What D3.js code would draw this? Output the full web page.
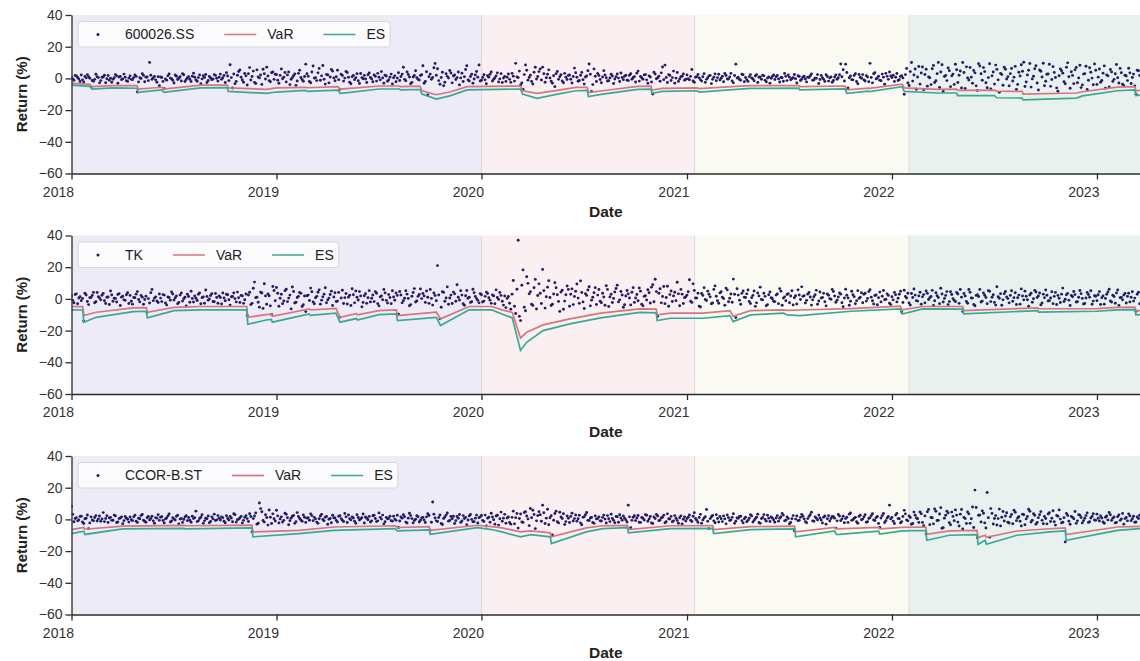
<!DOCTYPE html>
<html>
<head>
<meta charset="utf-8">
<script src="https://cdn.jsdelivr.net/npm/d3@7"></script>
<style>
  body { margin: 0; background: #fff; }
  text { font-family: "Liberation Sans", Arial, sans-serif; }
</style>
</head>
<body>
<svg id="chart" width="1140" height="661"></svg>
<script>
// ---- data ----
// daily returns in %, 84 per year from 2018.0; the "_b" arrays sit half a step later
const ret600026_a = [
  0.8,-1.2,1.5,-0.4,2.1,-2.3,0.3,1.1,-5.5,-1.8,2.6,0.5,
  -1.4,0.9,-2.7,1.8,0.2,-0.6,2.4,-3.1,1.2,-0.3,0.7,-1.9,
  1.6,-0.8,2.2,-8.6,0.4,3.0,-2.1,0.9,10.1,-0.5,1.3,-2.4,
  -4.6,0.6,-6.5,-1.1,2.8,-0.2,-2.9,1.4,0.1,-1.6,2.3,-0.7,
  1.0,-2.0,3.3,-0.9,0.5,-3.4,1.7,2.5,-1.3,0.3,-0.4,1.9,
  -1.7,2.7,0.4,-2.6,1.5,8.6,-6.1,-3.3,2.0,5.3,-1.0,3.1,
  -4.2,6.8,1.2,-2.5,5.4,0.3,-3.8,2.9,7.1,-1.4,3.6,-0.6,
  2.4,-3.1,5.9,0.8,-2.2,4.1,-0.5,1.7,-4.4,3.2,0.6,-1.8,
  9.0,1.3,-2.7,7.8,0.4,3.5,-1.2,8.1,-3.6,2.2,0.9,4.6,
  -1.5,5.2,-6.9,1.8,0.2,3.7,-2.4,1.1,-0.8,2.9,-3.2,0.5,
  1.9,-2.6,3.4,-0.3,2.2,-1.7,0.8,4.3,-3.0,1.5,-0.9,2.7,
  0.4,-2.1,3.6,1.2,7.0,-1.5,2.5,-3.3,0.9,4.8,-0.6,1.8,
  8.0,-1.9,-10.4,2.7,0.6,9.4,6.1,-3.7,3.9,-2.4,1.3,5.0,
  -2.8,2.1,0.5,-4.1,3.3,1.0,8.0,-1.6,2.6,-0.4,4.4,8.5,
  -1.2,2.3,-3.4,0.8,4.1,-0.5,1.6,-2.2,3.0,0.2,-1.9,2.8,
  -2.5,1.4,9.5,0.5,-4.2,-6.9,8.5,-1.1,2.0,-3.5,7.0,1.2,
  6.0,7.1,-2.4,2.6,0.3,-3.0,-5.2,4.4,1.0,-1.6,3.2,-0.7,
  2.1,-2.9,6.5,0.7,-1.3,3.8,-3.6,1.5,9.1,-8.2,6.0,-2.0,
  1.8,-2.7,4.9,0.4,-1.5,2.6,-3.2,1.1,0.2,3.4,-0.8,2.0,
  -1.4,3.0,0.6,-2.3,4.6,1.2,-0.5,2.4,-3.1,0.9,-9.8,2.7,
  0.3,-1.8,7.2,8.4,-2.6,1.9,0.5,-3.0,3.7,-0.4,1.4,-1.1,
  2.2,-0.9,5.6,-2.4,1.1,0.3,-1.7,3.0,-0.6,1.6,-3.3,0.8,
  -1.5,2.6,0.1,-2.1,1.8,-0.4,3.2,-2.8,9.0,0.7,-1.2,2.3,
  0.6,-1.9,2.4,-0.3,1.5,-2.6,0.9,2.0,-1.1,0.2,-3.0,1.3,
  -0.7,1.9,-2.3,0.4,3.1,-1.4,0.8,-0.2,2.5,-2.9,1.2,-0.5,
  1.4,-2.2,0.6,2.8,-1.0,0.1,-3.2,1.9,-0.6,2.3,-1.7,0.9,
  -1.3,2.1,0.4,9.1,5.5,9.0,-6.0,1.5,-0.9,3.0,-3.4,0.7,
  2.4,-1.6,0.9,9.5,-2.8,3.6,0.2,-1.1,2.7,-3.7,1.3,4.0,
  0.5,-2.0,3.1,-0.8,1.7,-10.0,6.2,-4.5,10.0,2.1,-6.8,7.5,
  3.4,-7.1,5.8,0.9,-3.9,8.2,-1.5,10.1,4.0,-8.3,1.8,6.6,
  -5.2,2.7,8.9,-2.6,4.7,10.0,-6.4,0.3,6.9,-3.1,3.5,-7.6,
  7.8,-1.2,4.3,-5.9,9.2,1.6,-3.6,5.7,-8.8,2.4,7.1,-0.4,
  -4.7,6.3,0.8,-6.9,3.9,8.6,10.2,-2.3,5.1,-5.5,1.4,8.0,
  -7.3,4.5,9.6,-1.8,2.8,-5.0,7.4,0.6,-8.1,6.0,3.3,-3.4,
  9.8,-6.2,1.9,5.4,-2.7,8.3,-4.1,3.0,-7.0,6.7,0.2,9.1,
  -3.8,5.9,-1.3,7.9,2.2,-5.4,4.1,-0.6,8.8,-2.9,3.6,-4.6,
  1.5,6.4,-3.2,2.7,-10.0,4.8
];
const ret600026_b = [
  -0.3,1.8,0.6,-2.0,-0.9,1.2,2.4,0.1,-1.3,-0.6,1.0,-2.8,
  0.7,2.0,-0.2,-1.1,-2.4,0.4,1.6,0.9,-0.8,2.7,-1.5,0.2,
  -0.6,0.5,1.3,-2.2,-0.1,1.9,0.8,-1.4,2.0,0.3,-0.9,1.1,
  0.9,-1.9,-0.4,1.6,0.2,-1.2,2.1,-0.7,1.0,2.9,-2.0,0.4,
  -0.5,1.4,0.7,-1.8,2.2,-0.3,0.6,-2.6,1.2,-0.8,2.4,0.1,
  0.8,-0.6,1.9,3.6,-1.4,0.5,2.8,-1.9,4.4,0.7,-2.4,1.6,
  3.0,-1.0,4.6,-3.2,0.9,2.1,5.8,-0.4,1.5,-2.1,4.0,2.6,
  -1.1,1.9,-0.2,3.7,2.2,-3.9,0.5,2.8,-1.6,5.1,-0.7,1.2,
  2.9,-2.0,4.0,0.2,-1.4,6.3,1.6,-0.5,2.5,-2.8,5.6,0.3,
  1.0,-0.8,2.6,-1.7,4.4,0.7,-3.4,1.9,0.4,-1.5,3.1,-0.2,
  -0.4,2.3,0.6,-2.1,1.4,3.2,-0.9,0.3,2.0,-1.8,0.8,-3.5,
  1.6,0.2,-1.3,2.7,-0.6,4.1,0.9,-2.5,1.8,0.5,-1.0,2.3,
  -3.1,4.2,1.1,-0.5,6.7,2.0,-1.4,0.6,-4.6,2.9,0.2,3.4,
  1.5,-0.7,4.0,0.3,-2.0,5.6,-0.9,1.2,-3.0,2.2,0.8,-1.6,
  0.6,-0.9,1.7,2.6,-1.6,0.4,3.5,-0.3,-2.6,1.3,0.7,-0.6,
  3.2,-1.7,0.9,4.6,-2.9,2.4,5.1,0.6,-1.9,3.9,-0.4,4.3,
  -1.0,2.9,0.4,5.4,-1.8,1.7,3.0,-0.6,2.3,-2.7,0.8,1.9,
  -0.5,1.2,3.6,-1.8,2.0,-0.8,0.9,4.8,2.6,-3.9,1.4,3.1,
  -0.7,0.9,2.2,-1.6,0.3,1.5,-0.4,2.8,-2.0,0.6,1.3,-1.1,
  2.0,-0.5,1.1,3.3,-1.7,0.4,2.2,-0.9,1.6,-2.2,3.9,-0.2,
  1.4,3.5,-0.8,0.6,2.4,-1.3,4.6,0.2,-1.9,1.1,2.8,-0.5,
  -0.2,1.3,-1.6,0.7,2.5,-0.8,1.0,-2.5,0.4,1.9,-0.6,2.8,
  0.5,-1.0,1.4,3.1,-0.4,0.9,-1.6,1.8,0.2,-0.7,2.6,-2.1,
  -0.8,1.1,0.3,-1.5,2.3,0.7,-0.5,1.6,-2.1,0.9,0.1,2.2,
  1.0,-0.3,0.6,-1.8,1.3,2.2,-0.9,0.4,-0.2,1.7,-1.3,0.8,
  -0.4,0.8,1.7,-1.1,0.2,2.4,-0.7,0.5,-1.9,1.2,0.3,-2.4,
  0.9,-0.5,2.3,1.0,-1.6,3.7,0.4,-0.8,1.8,-2.0,2.5,0.1,
  -0.9,1.7,-2.1,0.6,2.9,-0.3,1.4,-1.5,0.8,3.2,-0.6,1.5,
  2.0,0.7,-1.3,1.2,0.3,2.4,-2.8,4.3,-1.7,5.9,0.9,-3.6,
  7.2,2.5,-4.9,0.4,6.1,-2.6,3.0,-5.7,8.6,1.2,-1.4,4.9,
  1.6,-3.8,5.5,2.0,-6.0,3.7,7.3,-1.0,0.8,5.0,-4.7,9.3,
  2.9,6.8,-2.7,0.5,-6.6,4.0,8.4,-0.9,3.2,-4.3,5.8,1.1,
  3.0,-1.6,7.6,-3.8,1.5,4.5,-5.1,2.2,9.4,-0.3,6.1,-2.9,
  5.3,0.9,-4.6,2.6,8.9,-0.7,3.8,-6.0,1.7,4.8,-2.1,7.0,
  1.0,4.2,-3.3,6.9,0.3,-5.8,2.7,7.7,-1.2,3.9,-4.0,5.1,
  0.8,-2.4,3.3,-6.2,1.6,5.6,-1.9,2.9,0.4,6.3,-3.7,2.0,
  -1.4,3.5,0.6,-4.8,5.1,1.9
];

const retTK_a = [
  1.9,-2.4,3.2,0.6,-1.1,-14.0,2.5,-3.6,0.9,4.1,-1.8,1.4,
  -0.6,3.5,-2.9,1.2,5.0,-1.5,0.3,2.8,-4.2,1.7,-0.9,3.9,
  2.2,-3.3,0.8,4.6,-1.9,1.1,-0.4,-8.5,-2.6,6.0,0.5,-1.3,
  3.1,-1.7,2.4,-3.8,0.9,4.4,-0.7,1.8,-2.2,3.7,0.1,-4.5,
  1.5,4.8,-2.0,0.4,2.9,-3.1,1.2,5.6,-0.8,2.1,-1.6,3.4,
  -2.7,0.9,3.8,-1.2,2.6,-3.9,1.5,0.2,4.3,-2.3,1.9,-0.5,
  -10.5,4.2,-2.8,10.6,1.1,-5.2,3.7,9.6,-3.4,2.0,-9.8,5.3,
  7.2,-4.6,2.9,-1.3,6.1,0.5,-6.3,4.7,-2.1,1.6,3.5,-3.7,
  -8.0,2.4,6.8,-1.9,0.7,4.2,-3.3,1.3,7.0,-0.6,2.8,-4.1,
  3.9,-1.4,-11.5,5.5,0.8,-3.2,2.3,6.4,-2.5,1.0,4.6,-5.0,
  2.0,-2.8,5.2,0.4,-1.7,3.6,-4.4,1.9,6.0,-0.9,2.7,-3.0,
  1.2,3.8,-9.6,2.5,-1.1,5.1,0.3,-3.6,4.0,-2.0,1.6,6.3,
  3.4,-2.2,1.0,5.9,-3.9,2.1,21.0,-12.6,4.5,-1.5,7.6,0.6,
  -2.9,3.2,8.9,-0.7,2.4,-4.0,5.3,1.1,-1.8,3.9,0.2,-2.5,
  2.6,-1.4,4.3,0.7,-2.8,1.9,5.7,-0.3,2.2,-3.9,-5.5,1.5,
  -6.5,11.6,-9.2,37.0,-13.7,18.3,-7.5,9.8,4.5,-4.1,12.3,2.1,
  3.6,18.6,-5.8,7.4,0.9,-3.3,10.2,2.6,-7.9,5.5,-1.4,8.1,
  -4.6,6.3,1.5,9.4,-2.8,4.0,-6.1,2.2,7.7,-0.8,3.9,-3.5,
  5.9,-2.4,1.2,8.3,-4.8,2.9,0.3,6.6,-1.9,4.7,-5.3,1.8,
  3.2,-3.8,7.1,0.6,-1.2,4.9,-4.4,2.0,5.8,-2.6,9.0,12.4,
  -11.0,6.4,1.5,-3.0,8.0,2.7,-1.6,4.2,10.5,-4.3,3.0,0.8,
  2.4,12.1,-2.2,5.3,0.5,-4.6,3.4,7.1,-1.0,2.9,-3.1,6.0,
  1.7,-2.7,4.5,0.2,6.8,-1.8,3.1,12.5,-11.8,2.4,-3.4,5.0,
  0.9,5.6,-2.9,2.2,-4.7,3.8,7.4,-0.6,1.6,-3.6,4.4,0.1,
  -1.7,3.1,6.5,-4.0,1.3,2.8,-2.4,5.1,0.7,-3.2,2.5,7.6,
  2.0,-0.9,4.0,-3.9,1.4,5.4,-1.3,0.5,3.5,-4.4,2.3,-0.2,
  4.7,-2.1,1.2,3.0,-4.9,6.1,0.6,-1.5,2.6,-3.1,5.2,1.0,
  -2.4,3.6,0.3,5.8,-1.2,2.1,-3.7,4.3,1.7,-0.5,3.2,-2.7,
  1.4,4.1,-1.9,2.9,-8.2,5.5,0.6,-2.6,3.4,6.2,-1.1,1.9,
  -3.3,2.7,5.0,-0.4,1.5,-4.1,3.9,0.9,6.7,-2.0,2.2,-3.6,
  4.5,0.2,-1.6,3.1,5.9,-8.0,1.8,-2.7,4.2,0.5,-4.3,2.6,
  6.0,-1.4,2.3,-3.1,4.8,1.0,-2.2,7.7,0.4,-4.0,3.3,1.2,
  -2.5,5.1,0.8,-3.5,2.4,6.3,-0.6,1.7,-4.6,3.6,0.1,4.4,
  1.9,-3.8,3.0,5.6,-1.3,0.6,-3.0,4.1,2.2,-2.3,6.8,-0.2,
  3.5,-4.2,1.4,2.7,-1.8,5.3,0.3,-2.9,4.0,1.1,-3.4,2.0,
  -1.1,4.6,0.7,-3.3,2.9,6.1,-2.0,1.5,3.8,-4.1,0.9,2.4,
  -2.6,3.6,1.0,-1.4,-7.8,4.2
];
const retTK_b = [
  -0.9,2.8,-3.1,1.4,0.3,3.6,-1.6,0.8,2.2,-2.4,4.0,0.6,
  2.3,-1.2,1.0,-3.5,2.5,0.4,-2.0,3.3,1.1,-0.6,2.6,-2.9,
  -1.5,0.9,3.0,-0.4,2.1,-3.4,1.7,0.2,3.9,-1.1,1.3,-2.3,
  0.5,2.7,-2.6,1.2,-0.8,3.1,0.7,-3.0,2.4,-1.4,1.0,2.9,
  -2.1,0.3,1.9,-1.0,3.7,0.8,-2.7,1.5,0.0,3.3,-1.8,0.9,
  1.8,-3.2,0.6,2.9,-0.5,1.4,3.8,-1.9,0.7,2.2,-2.8,3.1,
  2.5,-3.6,6.7,0.8,-2.1,4.3,-6.0,1.9,3.1,-4.4,7.8,-1.2,
  3.6,0.4,-3.0,5.2,-1.7,2.4,7.5,-2.6,0.9,4.0,-4.8,1.8,
  2.0,-1.0,4.5,-3.1,1.6,5.7,-0.8,3.0,-2.4,0.5,4.9,1.2,
  -1.6,4.1,0.6,-2.9,3.4,1.1,-4.2,2.6,5.0,-0.7,1.9,-2.2,
  3.3,0.7,-1.9,2.5,4.6,-3.0,1.3,-0.5,3.8,-2.6,0.9,5.1,
  -0.8,2.2,4.7,-2.5,0.4,3.0,-4.3,1.7,6.5,-1.3,2.8,0.2,
  1.9,5.0,-2.8,0.3,3.7,-1.2,2.5,-5.3,4.1,0.6,-3.4,2.4,
  4.3,-1.5,1.0,5.2,-3.1,2.0,0.4,-2.2,6.1,1.5,-0.9,3.3,
  -2.0,1.6,3.4,-0.8,2.5,-3.1,0.9,4.0,-1.5,1.8,0.3,-2.7,
  3.0,-4.6,6.1,-11.0,8.6,-5.2,14.0,3.2,-3.4,7.0,-6.4,9.5,
  -2.9,5.2,1.4,11.5,-4.2,3.1,7.0,-1.6,4.3,-6.5,2.6,6.0,
  2.9,-3.6,4.8,0.5,11.4,-1.9,3.3,5.6,-4.4,1.0,7.1,2.4,
  -1.5,3.6,-4.0,6.0,1.2,-2.3,4.4,8.6,-0.6,2.5,-3.7,5.3,
  0.6,4.2,-2.2,2.8,6.9,-3.3,1.6,-0.7,3.9,7.4,-1.8,4.6,
  3.6,-2.5,7.8,0.9,-4.6,5.0,1.9,-1.1,3.2,6.0,-2.9,1.4,
  4.5,-1.5,9.5,0.6,3.6,-5.1,2.2,-0.4,4.9,1.3,-2.6,8.2,
  -1.2,3.8,1.0,-4.0,5.7,0.4,-2.1,2.9,6.4,-0.8,3.5,1.1,
  3.2,-1.6,0.8,5.0,-2.5,1.9,-0.3,3.6,-4.3,2.6,0.7,-1.5,
  2.4,-3.0,4.9,0.5,-1.2,3.3,1.8,-3.8,2.0,5.7,-0.4,1.6,
  -2.6,3.0,1.2,-0.6,2.6,-3.4,4.4,0.9,-1.8,3.1,0.2,6.0,
  1.8,-0.8,3.7,-2.4,0.6,2.3,-4.0,4.8,1.4,-1.1,0.3,3.9,
  2.9,-1.4,4.6,1.1,-3.2,2.5,0.8,-1.9,5.3,-0.2,2.2,-3.6,
  -0.6,2.6,0.4,4.8,-2.3,1.5,3.6,-3.9,0.9,2.4,-1.4,4.2,
  1.3,-2.5,3.5,0.8,5.4,-1.2,2.0,-3.0,3.1,0.3,4.6,-1.7,
  2.8,-0.9,4.0,-2.8,1.1,3.4,-1.6,5.9,0.6,-3.5,2.2,1.5,
  -2.0,3.8,0.9,5.2,-1.7,2.6,-3.9,1.4,3.3,-0.6,4.7,0.2,
  2.2,-1.5,3.9,0.7,-3.3,1.9,4.9,-0.5,2.5,-2.1,5.4,0.9,
  3.7,-2.6,0.8,2.3,-1.1,4.5,1.6,-3.5,0.4,3.0,-1.6,2.6,
  -0.8,2.1,4.7,-2.0,1.0,3.3,-3.2,0.6,2.8,5.1,-1.4,1.7,
  2.6,-3.5,1.9,0.3,4.4,-1.3,2.3,-2.7,5.6,0.8,-0.6,3.4,
  1.6,-1.9,4.5,0.5,2.9,-3.1
];

const retCCOR_a = [
  8.2,-1.5,1.1,-0.4,2.0,-2.6,0.7,-5.8,1.6,-0.9,2.4,0.3,
  -1.2,4.3,0.6,-2.0,1.3,-0.5,2.2,-1.6,0.9,-2.7,1.8,0.1,
  1.5,-0.8,2.6,-1.9,0.4,3.1,-1.2,1.0,-0.3,2.0,-2.4,0.8,
  -0.6,1.7,-2.2,0.9,3.4,-1.0,0.2,1.9,-2.8,0.6,-0.1,2.3,
  1.2,-1.8,0.5,5.2,-0.9,1.4,-2.5,0.7,2.1,-1.3,0.3,-0.7,
  2.4,-0.4,1.0,-2.1,0.6,1.8,-1.5,3.0,-0.2,0.9,-2.3,1.3,
  0.5,3.6,-7.9,2.1,-3.0,10.3,4.8,-1.7,1.2,5.9,-2.6,0.4,
  5.8,-2.2,1.6,-0.6,3.2,-3.4,0.8,2.5,-1.4,1.9,-0.3,2.8,
  -1.9,1.0,3.5,-0.8,0.3,-2.5,2.1,-0.1,1.4,-3.1,0.6,2.6,
  0.9,-1.6,2.3,-0.5,3.7,-2.0,0.4,1.6,-1.1,2.9,-0.4,1.1,
  -2.3,0.7,1.9,-0.9,2.6,-1.4,4.1,0.2,-2.8,1.3,0.5,-0.8,
  2.0,-0.6,-5.1,1.5,3.0,-1.7,0.8,2.4,-2.2,0.1,1.7,-0.5,
  1.3,-2.0,3.6,-6.8,11.0,0.9,-1.3,2.8,-3.2,1.5,4.0,-0.7,
  0.4,-2.6,1.8,3.1,-1.0,0.6,-3.3,2.2,0.0,-1.4,2.7,1.1,
  2.5,-1.3,-4.2,1.4,3.9,-0.2,2.1,-3.6,4.6,0.8,-2.4,1.6,
  -3.0,5.2,1.1,-5.5,3.4,-1.9,4.8,0.3,6.9,5.8,-5.8,2.4,
  2.9,9.0,-2.6,6.4,1.0,-9.8,3.7,-1.5,4.5,0.6,-3.2,2.2,
  -2.0,3.9,0.5,-1.1,2.6,-3.4,1.7,4.4,-0.7,1.2,-2.5,0.3,
  1.6,-1.0,2.7,-2.3,0.4,3.3,-0.6,1.9,-1.8,0.9,2.2,-0.3,
  9.0,-5.2,1.4,-0.8,2.5,-1.9,0.7,3.0,-1.2,1.8,-2.6,0.5,
  2.1,-0.4,1.3,-2.1,3.5,0.2,-1.5,2.4,-0.7,1.0,-2.9,1.6,
  0.6,2.8,-1.3,4.2,-0.5,1.2,-2.4,0.9,6.2,-5.8,1.7,-0.9,
  3.0,-1.6,0.4,2.2,-2.8,1.1,-0.3,3.6,-1.1,0.7,2.0,-2.2,
  1.4,-0.6,2.9,-1.7,0.5,3.3,-2.5,1.2,0.0,2.6,-1.3,0.8,
  -1.8,2.3,0.7,3.8,-0.9,1.5,-2.7,0.4,-7.2,2.1,-0.5,3.2,
  0.3,-2.1,1.9,4.5,-1.2,0.8,2.7,-0.4,1.4,-3.0,2.3,0.6,
  1.7,-5.5,3.1,-0.8,2.0,0.5,-1.9,4.0,-0.2,1.3,-2.4,2.6,
  0.2,2.9,-1.5,1.1,3.6,-0.7,1.8,-5.0,2.4,-2.0,0.9,9.0,
  1.3,-2.6,3.8,0.4,-1.4,5.7,-0.3,2.2,-3.1,4.6,0.9,-1.9,
  3.5,-4.0,-9.2,6.3,1.2,-2.8,5.1,-0.6,7.4,-5.2,2.6,4.1,
  -3.4,1.9,6.0,-1.7,3.3,-6.1,0.5,4.7,-2.5,7.8,18.5,-11.5,
  2.7,5.4,-2.2,17.0,-11.2,3.8,0.6,-3.5,6.5,1.4,-1.0,4.2,
  -2.3,3.1,5.8,-0.8,1.7,-4.1,2.9,0.3,6.4,-1.6,3.6,-3.0,
  1.1,4.9,-2.7,0.6,3.4,-1.3,5.5,-3.6,2.0,0.2,-1.8,-14.2,
  2.5,-3.1,1.3,5.0,-0.9,2.6,-2.2,0.7,4.1,-1.5,1.8,-0.4,
  3.3,-1.0,0.9,-2.4,2.1,4.4,-0.6,1.5,-1.9,2.8,0.3,-3.0,
  1.2,3.4,-0.8,2.0,-1.6,0.6
];
const retCCOR_b = [
  3.2,0.6,-0.9,1.9,-1.6,0.4,2.8,-2.2,-0.3,1.2,-1.0,2.1,
  0.3,-1.4,2.3,0.9,-0.6,2.7,-2.0,0.5,1.5,-0.8,0.8,-1.7,
  -0.2,1.6,-1.1,0.7,2.4,-0.5,-1.8,1.9,0.6,-0.9,1.1,2.9,
  1.4,-0.7,0.3,2.2,-1.6,1.0,-0.4,2.6,0.2,-1.9,1.5,-0.8,
  -0.5,2.0,1.1,-1.4,0.6,2.9,-0.9,0.4,-2.1,1.6,3.3,-0.3,
  0.7,1.5,-1.2,2.3,-0.4,0.9,3.6,-1.7,0.2,1.9,-0.6,2.4,
  -1.3,1.8,0.5,4.1,-2.4,6.8,-0.7,2.9,-3.6,1.4,3.5,-1.0,
  2.2,0.3,-1.6,3.9,1.0,-0.8,2.0,-2.5,4.3,0.6,-1.2,1.4,
  0.8,-0.5,2.4,1.3,-1.7,0.4,3.2,-0.9,1.8,0.1,-2.1,1.0,
  -0.7,2.0,0.5,-1.3,1.6,2.8,-0.3,0.9,-2.4,1.2,0.3,3.4,
  1.5,-0.2,-1.7,2.3,0.6,-0.9,1.3,2.7,-1.5,0.4,2.0,-1.1,
  0.2,2.6,-1.0,0.8,1.7,-2.3,3.9,0.5,-0.7,2.3,-1.6,0.9,
  -0.4,1.6,2.5,-1.8,3.3,-0.9,1.2,-2.6,0.6,2.7,-1.1,1.8,
  2.0,-0.8,0.7,-1.9,2.4,1.3,-0.4,3.1,-1.5,0.8,-2.3,1.6,
  -0.6,2.7,0.8,-1.8,1.5,-3.0,2.6,0.4,-1.2,3.2,0.9,-2.0,
  1.3,-2.8,3.7,0.6,-1.6,4.4,2.1,-3.9,1.0,3.1,-0.9,4.9,
  -1.2,4.2,0.8,-3.4,2.3,-0.5,5.2,-2.2,1.5,3.6,-1.4,0.7,
  1.9,-1.0,2.8,0.4,-2.2,1.3,3.0,-0.6,0.9,-1.9,2.2,0.5,
  -0.9,1.3,0.2,2.4,-1.4,0.6,-2.1,1.7,2.9,-0.5,0.8,-1.6,
  1.6,-0.6,2.3,0.9,-1.8,1.2,-0.4,2.6,0.3,-2.2,1.5,3.2,
  -0.8,1.1,2.6,-1.5,0.4,1.9,-0.9,0.7,-2.4,2.2,0.1,-1.0,
  1.4,-0.5,2.0,0.6,-1.9,3.2,-0.3,1.7,-1.2,0.5,2.5,-2.1,
  0.6,1.8,-1.4,0.3,2.8,-0.7,1.3,-2.5,0.9,1.9,-0.8,0.4,
  -1.5,0.7,2.2,-0.6,1.4,-2.0,0.5,3.0,-1.1,0.8,1.6,-0.4,
  0.9,-1.1,1.7,2.7,-0.5,0.6,-1.9,2.4,0.2,-0.8,1.3,2.0,
  -1.4,0.5,3.0,-0.9,1.6,-0.3,0.9,-2.3,2.1,0.4,-1.0,1.8,
  0.8,-0.9,2.1,0.3,-2.1,1.4,3.3,-0.6,0.7,-1.5,1.9,-0.2,
  1.5,-1.8,0.6,2.4,-0.4,1.1,-2.6,0.9,3.7,-0.8,1.8,0.3,
  -1.1,2.7,0.5,-2.2,1.8,3.5,-0.9,1.2,-2.6,2.6,0.4,4.7,
  -1.9,2.2,4.8,-3.3,1.0,6.6,-0.7,3.4,-5.6,0.8,5.2,-2.1,
  4.6,-0.8,2.7,-4.2,6.2,1.3,-2.6,3.5,0.4,-5.1,7.5,2.6,
  -1.6,3.9,-5.4,1.1,6.8,-2.9,2.4,0.5,-4.1,5.0,2.1,-1.8,
  1.6,-2.7,4.5,0.9,-1.2,3.3,-3.4,1.8,5.1,-0.5,2.6,-1.9,
  3.0,-0.6,1.9,-2.8,4.2,0.7,-1.5,2.5,6.0,-2.2,1.1,3.7,
  -1.1,1.9,0.4,-2.5,3.0,1.2,-0.8,2.4,-1.9,0.9,3.6,-0.6,
  0.7,2.1,-1.6,1.4,-0.3,2.9,0.8,-2.2,1.7,-0.6,3.8,0.5,
  -0.9,2.2,0.4,-1.8,1.5,2.6
];

// VaR / ES paths: [decimal year, VaR %, ES %]
const risk600026 = [
  [2018.00,-3.2,-4.2],[2018.09,-3.8,-5.0],[2018.10,-5.2,-6.7],[2018.20,-4.6,-6.0],
  [2018.32,-4.6,-6.2],[2018.325,-6.7,-8.8],[2018.44,-5.6,-7.3],[2018.45,-6.7,-8.8],
  [2018.63,-4.2,-6.0],[2018.76,-4.2,-5.8],[2018.765,-6.0,-8.2],[2018.95,-6.9,-9.4],
  [2019.00,-6.0,-8.6],[2019.14,-5.6,-7.6],[2019.15,-5.9,-8.2],[2019.30,-5.2,-7.4],
  [2019.31,-6.7,-9.4],[2019.36,-6.3,-8.8],[2019.50,-4.8,-6.7],[2019.60,-4.8,-6.7],
  [2019.605,-5.2,-7.3],[2019.70,-4.9,-7.0],[2019.71,-7.8,-9.9],[2019.78,-10.3,-13.0],
  [2019.85,-8.4,-10.9],[2019.93,-5.2,-7.3],[2020.19,-4.8,-6.7],[2020.20,-7.8,-9.9],
  [2020.27,-9.4,-12.6],[2020.37,-7.5,-9.9],[2020.46,-5.7,-7.8],[2020.515,-5.6,-7.6],
  [2020.52,-9.0,-11.5],[2020.59,-7.8,-9.9],[2020.76,-5.0,-6.9],[2020.825,-4.9,-6.8],
  [2020.83,-7.3,-9.4],[2020.88,-6.3,-8.2],[2021.05,-6.0,-7.8],[2021.06,-6.4,-8.6],
  [2021.24,-5.0,-6.9],[2021.31,-4.6,-6.3],[2021.545,-4.5,-6.1],[2021.55,-5.2,-7.3],
  [2021.77,-4.8,-6.6],[2021.78,-7.3,-9.4],[2021.885,-6.1,-8.0],[2021.89,-6.3,-8.4],
  [2022.05,-3.6,-5.2],[2022.06,-6.0,-8.2],[2022.22,-6.9,-9.2],[2022.315,-6.8,-9.2],
  [2022.32,-7.6,-10.9],[2022.50,-7.4,-10.8],[2022.51,-8.0,-12.2],[2022.635,-8.2,-12.4],
  [2022.64,-9.9,-13.6],[2022.90,-9.2,-12.4],[2022.93,-8.4,-11.0],[2023.10,-5.5,-7.8],
  [2023.185,-5.2,-7.3],[2023.19,-7.8,-10.9],[2023.21,-7.6,-10.6]
];

const riskTK = [
  [2018.00,-4.8,-6.9],[2018.055,-4.9,-7.0],[2018.06,-10.5,-14.7],[2018.12,-8.4,-11.6],
  [2018.30,-5.7,-8.0],[2018.365,-5.5,-7.8],[2018.37,-8.4,-12.0],[2018.50,-5.3,-7.4],
  [2018.63,-4.8,-6.9],[2018.855,-4.8,-6.9],[2018.86,-11.6,-16.0],[2018.95,-9.9,-13.3],
  [2018.975,-9.6,-13.0],[2018.98,-11.0,-14.7],[2019.16,-6.3,-9.5],[2019.165,-7.0,-10.4],
  [2019.29,-6.0,-9.0],[2019.31,-11.6,-14.7],[2019.39,-9.3,-12.4],[2019.395,-10.0,-13.4],
  [2019.50,-7.4,-9.9],[2019.585,-7.0,-9.5],[2019.59,-10.5,-13.7],[2019.78,-8.4,-11.6],
  [2019.80,-12.6,-16.8],[2019.94,-4.8,-6.9],[2020.05,-4.8,-6.9],[2020.10,-6.9,-9.5],
  [2020.15,-8.5,-12.0],[2020.19,-24.6,-32.5],[2020.22,-21.1,-27.4],[2020.30,-16.4,-20.0],
  [2020.43,-12.6,-15.8],[2020.58,-9.0,-12.0],[2020.77,-6.3,-8.5],[2020.85,-6.5,-8.8],
  [2020.855,-10.0,-13.7],[2020.92,-9.0,-12.2],[2021.08,-9.0,-12.2],[2021.21,-7.4,-10.5],
  [2021.225,-11.0,-14.3],[2021.31,-7.4,-10.1],[2021.47,-6.9,-9.0],[2021.49,-7.2,-10.1],
  [2021.55,-7.0,-10.5],[2021.80,-6.1,-7.8],[2022.04,-4.6,-6.3],[2022.05,-6.9,-9.5],
  [2022.15,-4.8,-6.3],[2022.345,-4.8,-6.5],[2022.35,-7.4,-9.5],[2022.71,-5.7,-7.4],
  [2022.715,-6.2,-8.4],[2023.00,-6.1,-7.8],[2023.10,-5.3,-6.9],[2023.185,-5.2,-6.8],
  [2023.19,-7.6,-10.1],[2023.21,-7.4,-9.9]
];

const riskCCOR = [
  [2018.00,-6.4,-9.0],[2018.06,-5.0,-7.5],[2018.065,-6.2,-9.5],[2018.25,-4.2,-6.0],
  [2018.55,-3.8,-5.6],[2018.555,-4.0,-6.0],[2018.88,-3.6,-5.3],[2018.885,-7.9,-11.0],
  [2019.11,-6.9,-9.0],[2019.28,-4.8,-6.9],[2019.58,-4.0,-5.8],[2019.59,-5.1,-7.3],
  [2019.745,-4.6,-6.6],[2019.75,-6.9,-9.4],[2019.98,-3.7,-5.2],[2020.05,-4.6,-6.4],
  [2020.10,-5.4,-7.9],[2020.19,-7.9,-11.0],[2020.24,-7.3,-9.6],[2020.335,-8.5,-11.0],
  [2020.34,-11.0,-15.3],[2020.51,-5.4,-7.9],[2020.59,-4.0,-5.8],[2020.71,-3.8,-5.2],
  [2020.715,-6.4,-8.5],[2020.92,-4.0,-5.8],[2021.125,-3.9,-5.6],[2021.13,-6.4,-9.0],
  [2021.31,-4.6,-6.4],[2021.525,-4.2,-6.0],[2021.53,-7.9,-11.0],[2021.72,-5.1,-7.3],
  [2021.73,-6.0,-9.6],[2021.935,-5.0,-7.4],[2021.94,-6.0,-9.2],[2022.05,-5.0,-7.3],
  [2022.165,-4.8,-7.0],[2022.17,-9.4,-13.2],[2022.28,-7.3,-10.0],[2022.415,-6.9,-9.6],
  [2022.42,-11.5,-15.7],[2022.455,-10.0,-13.2],[2022.46,-11.3,-15.7],[2022.61,-7.3,-10.0],
  [2022.77,-5.9,-7.9],[2022.845,-5.4,-7.3],[2022.85,-9.6,-13.2],[2023.10,-4.8,-6.9],
  [2023.21,-4.4,-5.8]
];

const tickers = ["600026.SS", "TK", "CCOR-B.ST"];
const yTicks = [40, 20, 0, -20, -40, -60];
const phaseEdges = [2018.0, 2020.0, 2021.037, 2022.083, 2023.21];

// ---- styling ----
const phaseColors = ["#ecebf6", "#faf0f2", "#fbfaf2", "#e9f1ee"];
const dotColor = "#241b68";
const varColor = "#d9737e";
const esColor = "#3aa993";
const axisColor = "#2b2b2b";

const left = 71.5, right = 1140;
const panelTops = [15, 235.5, 456];
const panelH = 158.5;

function yearToDate(y) {
  const yr = Math.floor(y);
  const a = new Date(yr, 0, 1), b = new Date(yr + 1, 0, 1);
  return new Date(+a + (y - yr) * (b - a));
}

const x = d3.scaleTime()
  .domain([yearToDate(2018), yearToDate(2023.21)])
  .range([left, right]);

const svg = d3.select("#chart");
const fmtY = d => d < 0 ? "\u2212" + Math.abs(d) : String(d);

// put the two interleaved samples onto one time line
function toPoints(a, b) {
  return a.map((v, k) => ({ t: 2018 + k / 84, v }))
    .concat(b.map((v, k) => ({ t: 2018 + (k + 0.5) / 84, v })));
}

function drawPanel(i, returns, risk) {
  const top = panelTops[i], bottom = top + panelH;
  const y = d3.scaleLinear().domain([-60, 40]).range([bottom, top]);
  const g = svg.append("g");

  g.append("clipPath").attr("id", "clip" + i)
    .append("rect").attr("x", left).attr("y", top)
    .attr("width", right - left).attr("height", panelH);

  // shaded phases
  g.selectAll("rect.phase")
    .data(d3.pairs(phaseEdges))
    .join("rect")
    .attr("class", "phase")
    .attr("x", d => x(yearToDate(d[0])))
    .attr("y", top)
    .attr("width", d => x(yearToDate(d[1])) - x(yearToDate(d[0])))
    .attr("height", panelH)
    .attr("fill", (d, k) => phaseColors[k]);

  g.selectAll("line.edge")
    .data(phaseEdges.slice(1, -1))
    .join("line")
    .attr("class", "edge")
    .attr("x1", d => x(yearToDate(d))).attr("x2", d => x(yearToDate(d)))
    .attr("y1", top).attr("y2", bottom)
    .attr("stroke", "#e2d6da").attr("stroke-width", 1);

  const plot = g.append("g").attr("clip-path", `url(#clip${i})`);

  // returns scatter
  plot.selectAll("circle")
    .data(returns)
    .join("circle")
    .attr("cx", d => x(yearToDate(d.t)))
    .attr("cy", d => y(d.v))
    .attr("r", 1.45)
    .attr("fill", dotColor);

  const varLine = d3.line().x(d => x(yearToDate(d[0]))).y(d => y(d[1]));
  const esLine = d3.line().x(d => x(yearToDate(d[0]))).y(d => y(d[2]));

  plot.append("path").datum(risk)
    .attr("d", varLine).attr("fill", "none")
    .attr("stroke", varColor).attr("stroke-width", 1.7);
  plot.append("path").datum(risk)
    .attr("d", esLine).attr("fill", "none")
    .attr("stroke", esColor).attr("stroke-width", 1.7);

  // axes
  const ya = g.append("g")
    .attr("transform", `translate(${left},0)`)
    .call(d3.axisLeft(y).tickValues(yTicks).tickFormat(fmtY).tickSize(6).tickSizeOuter(0));
  const xa = g.append("g")
    .attr("transform", `translate(0,${bottom})`)
    .call(d3.axisBottom(x).ticks(d3.timeYear.every(1)).tickFormat(d3.timeFormat("%Y")).tickSize(6).tickSizeOuter(0));

  [ya, xa].forEach(a => {
    a.select(".domain").attr("stroke", axisColor).attr("stroke-width", 1.3);
    a.selectAll(".tick line").attr("stroke", axisColor).attr("stroke-width", 1.3);
    a.selectAll(".tick text").attr("fill", "#333").style("font-size", "14px")
      .style("font-family", "'Liberation Sans', Arial, sans-serif");
  });
  ya.selectAll(".tick text").attr("x", -9);
  xa.selectAll(".tick text").attr("text-anchor", "end").attr("x", 2).attr("dy", null).attr("y", 23);

  g.append("text")
    .attr("transform", `translate(22,${(top + bottom) / 2}) rotate(-90)`)
    .attr("text-anchor", "middle").attr("dy", "0.35em")
    .style("font-size", "15px").style("font-weight", "bold").attr("fill", "#222")
    .text("Return (%)");

  g.append("text")
    .attr("x", (left + right) / 2).attr("y", bottom + 43)
    .attr("text-anchor", "middle")
    .style("font-size", "15.5px").style("font-weight", "bold").attr("fill", "#222")
    .text("Date");

  // legend
  const lg = g.append("g");
  const box = lg.append("rect")
    .attr("x", 78).attr("y", top + 6.5).attr("height", 25.5).attr("rx", 3)
    .attr("fill", "#fff").attr("fill-opacity", 0.8)
    .attr("stroke", "#d6d6d6").attr("stroke-width", 1);
  const cy = top + 19.5;
  let cx = 82;
  const items = [
    { label: tickers[i], kind: "dot" },
    { label: "VaR", kind: "line", color: varColor },
    { label: "ES", kind: "line", color: esColor }
  ];
  items.forEach((it, k) => {
    if (k > 0) cx += 30;
    if (it.kind === "dot") {
      lg.append("circle").attr("cx", cx + 16).attr("cy", cy).attr("r", 1.5).attr("fill", dotColor);
    } else {
      lg.append("line").attr("x1", cx).attr("x2", cx + 32).attr("y1", cy).attr("y2", cy)
        .attr("stroke", it.color).attr("stroke-width", 1.7);
    }
    cx += 32 + 11;
    const t = lg.append("text").attr("x", cx).attr("y", cy).attr("dy", "0.35em")
      .style("font-size", "14px").attr("fill", "#222").text(it.label);
    cx += t.node().getComputedTextLength();
  });
  box.attr("width", cx + 5 - 78);
}

drawPanel(0, toPoints(ret600026_a, ret600026_b), risk600026);
drawPanel(1, toPoints(retTK_a, retTK_b), riskTK);
drawPanel(2, toPoints(retCCOR_a, retCCOR_b), riskCCOR);
</script>
</body>
</html>
